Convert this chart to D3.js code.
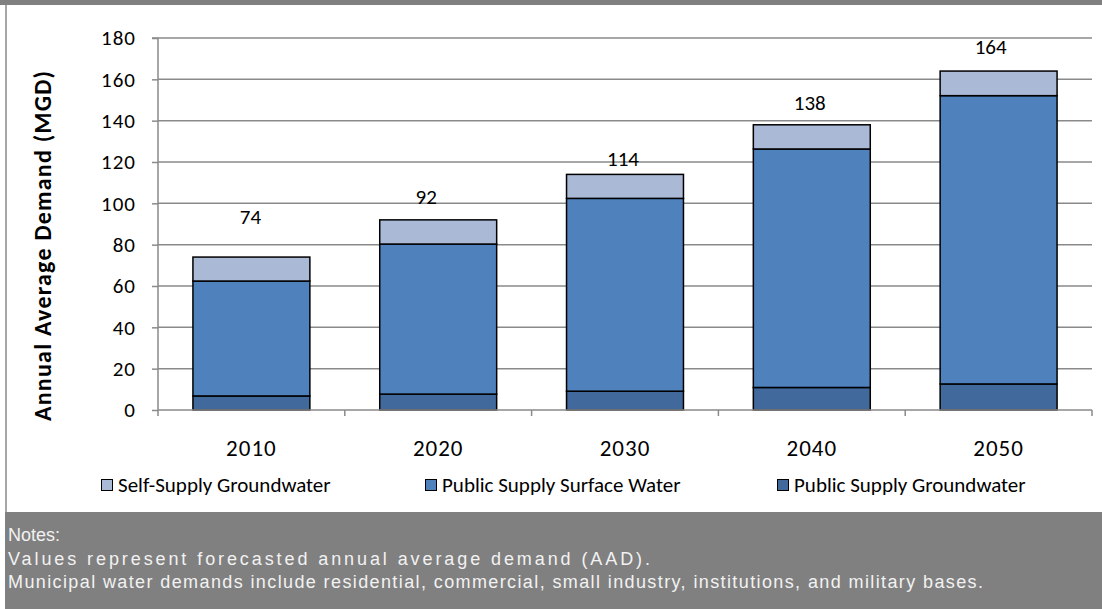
<!DOCTYPE html>
<html>
<head>
<meta charset="utf-8">
<script src="https://cdn.jsdelivr.net/npm/d3@7"></script>
<style>
  html, body { margin: 0; padding: 0; background: #ffffff; }
  svg { display: block; }
</style>
</head>
<body>
<svg id="chart" width="1102" height="609"></svg>
<script>
// Municipal water demand forecast, million gallons per day
const years = ["2010", "2020", "2030", "2040", "2050"];
const publicSupplyGroundwater = [6.8, 7.7, 9.1, 10.9, 12.6];
const publicSupplySurfaceWater = [55.6, 72.6, 93.3, 115.4, 139.5];
const selfSupplyGroundwater = [11.6, 11.7, 11.6, 11.7, 11.9];
const totalDemand = [74, 92, 114, 138, 164];
const yTicks = [0, 20, 40, 60, 80, 100, 120, 140, 160, 180];

const seriesNames = ["Self-Supply Groundwater", "Public Supply Surface Water", "Public Supply Groundwater"];
const colors = {
  "Public Supply Groundwater": "#41699b",
  "Public Supply Surface Water": "#4f81bd",
  "Self-Supply Groundwater": "#aab9d6"
};
// hand-placed nudges for the total labels (px)
const totalLabelNudge = [[-1, -40], [-12, -23], [-2, -16], [-2, -22], [-8, -24]];

const font = "Carlito, Calibri, Lato, sans-serif";
const svg = d3.select("#chart");

// frame: top band, left rule, notes panel
svg.append("rect").attr("x", 0).attr("y", 0).attr("width", 1102).attr("height", 5).attr("fill", "#808080");
svg.append("rect").attr("x", 5).attr("y", 5).attr("width", 2).attr("height", 507).attr("fill", "#a6a6a6");
svg.append("rect").attr("x", 5).attr("y", 512).attr("width", 1097).attr("height", 97).attr("fill", "#808080");

const plot = { left: 158, right: 1092, top: 38, bottom: 410 };

const x = d3.scaleBand().domain(years).range([plot.left, plot.right]).paddingInner(0.374).paddingOuter(0.187);
const y = d3.scaleLinear().domain([0, 180]).range([plot.bottom, plot.top]);

// gridlines
svg.append("g").selectAll("line").data(yTicks.filter(d => d > 0)).join("line")
  .attr("x1", plot.left).attr("x2", plot.right)
  .attr("y1", d => y(d)).attr("y2", d => y(d))
  .attr("stroke", "#8a8a8a").attr("stroke-width", 1.5);

// stacked bars
const rows = years.map((yr, i) => ({
  year: yr,
  "Public Supply Groundwater": publicSupplyGroundwater[i],
  "Public Supply Surface Water": publicSupplySurfaceWater[i],
  "Self-Supply Groundwater": selfSupplyGroundwater[i]
}));
const stack = d3.stack().keys(["Public Supply Groundwater", "Public Supply Surface Water", "Self-Supply Groundwater"]);
const layers = stack(rows);

svg.append("g").selectAll("g").data(layers).join("g")
  .attr("fill", d => colors[d.key])
  .selectAll("rect").data(d => d).join("rect")
  .attr("x", d => x(d.data.year))
  .attr("width", x.bandwidth())
  .attr("y", d => y(d[1]))
  .attr("height", d => y(d[0]) - y(d[1]))
  .attr("stroke", "#000").attr("stroke-width", 1.5);

// y axis
const yAxis = d3.axisLeft(y).tickValues(yTicks).tickSize(6).tickPadding(16);
const gy = svg.append("g").attr("transform", `translate(${plot.left},0)`).call(yAxis);
gy.select(".domain").attr("stroke", "#8a8a8a").attr("stroke-width", 1.5).attr("d", `M-6,${plot.top}H0V${plot.bottom}`);
gy.selectAll(".tick line").attr("stroke", "#8a8a8a").attr("stroke-width", 1.5);
gy.selectAll(".tick text").attr("font-family", font).attr("font-size", 21).attr("letter-spacing", 1).attr("fill", "#000");

// x axis
const xAxis = d3.axisBottom(x).tickSize(0).tickPadding(30);
const gx = svg.append("g").attr("transform", `translate(0,${plot.bottom})`).call(xAxis);
gx.select(".domain").attr("stroke", "#8a8a8a").attr("stroke-width", 1.5).attr("d", `M${plot.left},0H${plot.right}`);
gx.selectAll(".tick text").attr("font-family", font).attr("font-size", 23).attr("letter-spacing", 1).attr("fill", "#000");
const boundaries = d3.range(years.length + 1).map(i => plot.left + i * x.step());
gx.selectAll(".bound").data(boundaries).join("line").attr("class", "bound")
  .attr("x1", d => d).attr("x2", d => d).attr("y1", 0).attr("y2", 6)
  .attr("stroke", "#8a8a8a").attr("stroke-width", 1.5);

// totals
svg.append("g").selectAll("text").data(years).join("text")
  .attr("x", (d, i) => x(d) + x.bandwidth() / 2 + totalLabelNudge[i][0])
  .attr("y", (d, i) => y(totalDemand[i]) + totalLabelNudge[i][1])
  .attr("dy", "0.35em")
  .attr("text-anchor", "middle")
  .attr("font-family", font).attr("font-size", 21).attr("fill", "#000")
  .text((d, i) => totalDemand[i]);

// y axis title
svg.append("text")
  .attr("transform", "translate(51,246) rotate(-90)")
  .attr("text-anchor", "middle")
  .attr("font-family", font).attr("font-size", 24).attr("font-weight", "bold").attr("fill", "#000")
  .attr("textLength", 350).attr("lengthAdjust", "spacing")
  .text("Annual Average Demand (MGD)");

// legend
const legendX = [101, 425, 777];
const lg = svg.append("g").selectAll("g").data(seriesNames).join("g")
  .attr("transform", (d, i) => `translate(${legendX[i]},485)`);
lg.append("rect").attr("x", 0.5).attr("y", -5.5).attr("width", 11).attr("height", 11)
  .attr("fill", d => colors[d]).attr("stroke", "#000").attr("stroke-width", 1);
lg.append("text").attr("x", 17).attr("dy", "0.35em")
  .attr("font-family", font).attr("font-size", 21).attr("fill", "#000")
  .text(d => d);

// notes
const notes = [
  "Notes:",
  "Values represent forecasted annual average demand (AAD).",
  "Municipal water demands include residential, commercial, small industry, institutions, and military bases."
];
const noteY = [535, 559, 582];
const noteWidth = [null, 642, 975];
svg.append("g").selectAll("text").data(notes).join("text")
  .attr("x", 8).attr("y", (d, i) => noteY[i]).attr("dy", "0.35em")
  .attr("font-family", "'Liberation Sans', Arial, sans-serif").attr("font-size", 18)
  .attr("fill", "#f2f2f2")
  .each(function(d, i) { if (noteWidth[i]) d3.select(this).attr("textLength", noteWidth[i]).attr("lengthAdjust", "spacing"); })
  .text(d => d);
</script>
</body>
</html>
